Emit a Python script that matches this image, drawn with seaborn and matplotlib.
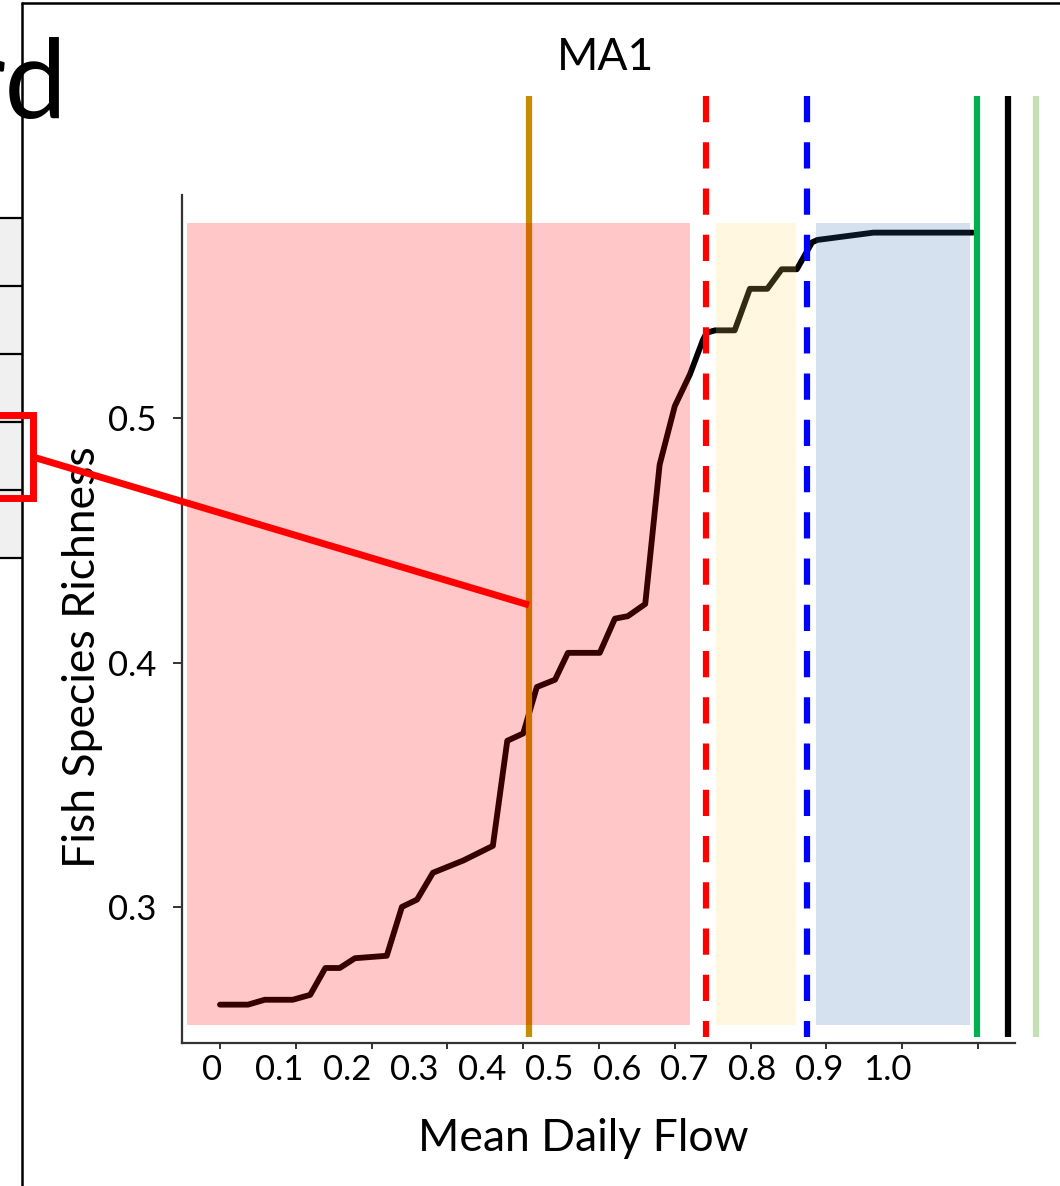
import numpy as np
import pandas as pd
import matplotlib
matplotlib.use("Agg")
import matplotlib.pyplot as plt
import seaborn as sns
from matplotlib.patches import Rectangle
from matplotlib.lines import Line2D

# ---------------- data ----------------
flow = [0, 0.037, 0.059, 0.096, 0.119, 0.139, 0.158, 0.178, 0.220, 0.240,
        0.260, 0.281, 0.321, 0.360, 0.379, 0.400, 0.418, 0.442, 0.459, 0.501,
        0.521, 0.538, 0.561, 0.580, 0.600, 0.620, 0.637, 0.642, 0.653, 0.679,
        0.699, 0.722, 0.741, 0.761, 0.781, 0.788, 0.862, 0.993]
richness = [0.260, 0.260, 0.262, 0.262, 0.264, 0.275, 0.275, 0.279, 0.280, 0.300,
            0.303, 0.314, 0.319, 0.325, 0.368, 0.371, 0.390, 0.393, 0.404, 0.404,
            0.418, 0.419, 0.424, 0.481, 0.505, 0.518, 0.532, 0.535, 0.536, 0.536,
            0.553, 0.553, 0.561, 0.561, 0.572, 0.573, 0.576, 0.576]

zone_start = [-0.0435, 0.654, 0.786]
zone_end = [0.620, 0.760, 0.989]
zone_low, zone_high = 0.2516, 0.5799
zone_colors = ["#FF0000", "#FFD764", "#2D69AA"]
zone_alpha = [0.22, 0.2, 0.2]

thr_x = [0.4077, 0.6412, 0.7744, 0.9987, 1.0396, 1.0765]
thr_colors = ["#C48E00", "#FF0000", "#0000FF", "#00B050", "#000000", "#C5E0B4"]
thr_dashed = [False, True, True, False, False, False]
thr_low, thr_high = 0.2467, 0.632

x_tick_vals = [0, 0.1, 0.2, 0.3, 0.4, 0.5, 0.6, 0.7, 0.8, 0.9, 1.0]
x_tick_labels = ["0", "0.1", "0.2", "0.3", "0.4", "0.5", "0.6", "0.7", "0.8", "0.9", "1.0"]
y_tick_vals = [0.3, 0.4, 0.5]
y_tick_labels = ["0.3", "0.4", "0.5"]

# ---------------- style ----------------
sns.set_theme(style="ticks")
plt.rcParams["font.family"] = ["Lato", "DejaVu Sans"]

W, H = 1060, 1186
fig = plt.figure(figsize=(W / 100, H / 100), dpi=100)
ax = fig.add_axes([182 / W, 1 - 1043 / H, 833 / W, 848 / H])

df = pd.DataFrame({"flow": flow, "richness": richness})
sns.lineplot(data=df, x="flow", y="richness", ax=ax, color="black",
             linewidth=4.2, zorder=2, sort=False)
for ln in ax.get_lines():
    ln.set_solid_joinstyle("round")

# vertical threshold lines
for xv, c, d in zip(thr_x, thr_colors, thr_dashed):
    ls = (0, (4.2, 3.2)) if d else "solid"
    ax.plot([xv, xv], [thr_high, thr_low], color=c, lw=4.5, ls=ls,
            clip_on=False, zorder=2 if xv < 0.5 else 4, solid_capstyle="butt",
            dash_capstyle="butt")

# shaded zones (semi-transparent overlays)
for x0, x1, c, a in zip(zone_start, zone_end, zone_colors, zone_alpha):
    ax.add_patch(Rectangle((x0, zone_low), x1 - x0, zone_high - zone_low,
                           facecolor=c, alpha=a, edgecolor="none", zorder=3))

ax.set_xlim(-0.0501, 1.0488)
ax.set_ylim(0.2443, 0.5914)

# ticks: marks at values, labels at their own (shifted) positions
ax.set_xticks(x_tick_vals, labels=[""] * len(x_tick_vals))
label_pos = [(-8 + 67.5 * i) / 758 for i in range(len(x_tick_labels))]
ax.set_xticks(label_pos, labels=x_tick_labels, minor=True)
ax.tick_params(axis="x", which="major", length=4.5, width=1.4, color="#333333")
ax.tick_params(axis="x", which="minor", length=0, pad=8, labelsize=25)
ax.set_yticks(y_tick_vals, labels=y_tick_labels)
ax.tick_params(axis="y", length=6.5, width=1.4, color="#333333", pad=12, labelsize=25)
for lab in ax.get_xticklabels(minor=True) + ax.get_yticklabels():
    lab.set_color("black")

sns.despine(ax=ax)
for s in ["left", "bottom"]:
    ax.spines[s].set_linewidth(1.6)
    ax.spines[s].set_color("#333333")
ax.set_facecolor("none")

ax.set_xlabel("Mean Daily Flow", fontsize=32, color="black")
ax.xaxis.set_label_coords(0.482, -0.088)
ax.set_ylabel("Fish Species Richness", fontsize=32, color="black")
ax.yaxis.set_label_coords(-0.095, 0.455)
ax.set_title("MA1", fontsize=32, x=0.508, pad=90, color="black")

# ---------------- figure-level decorations ----------------
def P(x, y):
    return (x / W, 1 - y / H)

T = fig.transFigure
# table fragment at left
fig.add_artist(Rectangle(P(-5, 558), 27 / W, 340 / H, transform=T,
                         facecolor="#F0F0F0", edgecolor="none", zorder=5))
for yy in [218, 286, 354, 422, 490, 558]:
    fig.add_artist(Line2D([0, 22 / W], [1 - yy / H] * 2, transform=T,
                          color="black", lw=1.6, zorder=6))
# panel border
fig.add_artist(Line2D([22 / W, 22 / W], [1 - 3 / H, 0], transform=T,
                      color="black", lw=1.8, zorder=6))
fig.add_artist(Line2D([22 / W, 1], [1 - 3 / H, 1 - 3 / H], transform=T,
                      color="black", lw=1.8, zorder=6))
# "rd" fragment
fig.text(67 / W, 1 - 118 / H, "rd", ha="right", va="baseline", fontsize=80,
         fontweight="normal", color="black", zorder=6)
# red highlight box and connector
fig.add_artist(Rectangle(P(-10, 498), 43 / W, 83 / H, transform=T,
                         facecolor="none", edgecolor="#FF0000", lw=5, zorder=10))
x0, y0 = P(33, 457)
x1, y1 = P(529, 605)
fig.add_artist(Line2D([x0, x1], [y0, y1], transform=T, color="#FF0000",
                      lw=5, solid_capstyle="butt", zorder=10))

fig.savefig("out.png", dpi=100)
